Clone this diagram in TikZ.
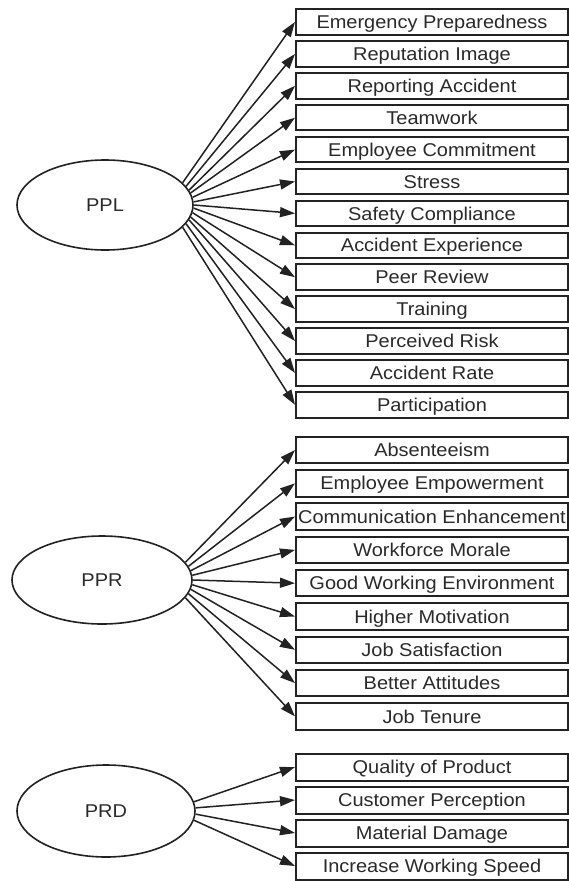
\documentclass[tikz,border=0pt]{standalone}
\usepackage{fontspec}
\setmainfont[FakeStretch=1.08]{Liberation Sans}
\usetikzlibrary{arrows.meta,shapes.geometric}
\definecolor{txt}{HTML}{2A2A2A}
\definecolor{edge}{HTML}{222222}
\tikzset{
  lbl/.style={font=\fontsize{18.5}{20}\selectfont, text=txt},
  itembox/.style={lbl, draw=edge, line width=2pt, fill=white, rectangle, anchor=west,
    minimum width=272pt, inner xsep=0pt, inner ysep=0pt, minimum height=25.5pt,
    text height=15pt, text depth=1.8pt},
  latent/.style={lbl, draw=edge, line width=1.6pt, ellipse, inner sep=0pt},
  arr/.style={draw=edge, line width=1.5pt, -{Triangle[length=15pt,width=10pt]}}
}
\newcommand{\boxtext}[1]{\hbox to 270pt{\hfil #1\hfil}}
\begin{document}
\begin{tikzpicture}[x=1pt,y=-1pt]
\useasboundingbox (0,0) rectangle (568,881);
\fill[white] (0,0) rectangle (568,881);
% latent variables
\node[latent, minimum width=176pt, minimum height=90pt] (ppl) at (105,205) {PPL};
\node[latent, minimum width=180pt, minimum height=88pt] (ppr) at (102,580) {PPR};
\node[latent, minimum width=178pt, minimum height=92pt] (prd) at (106,811) {PRD};
% PPL indicators
\foreach \t [count=\i] in {Emergency Preparedness, Reputation Image, Reporting Accident, Teamwork,
  Employee Commitment, Stress, Safety Compliance, Accident Experience, Peer Review, Training,
  Perceived Risk, Accident Rate, Participation} {
  \node[itembox] (a\i) at (295,{22+31.9*(\i-1)}) {\boxtext{\t}};
  \pgfmathsetmacro{\ang}{16-(\i-1)*32/12}
  \draw[arr] (ppl.\ang) -- (a\i.west);
}
% PPR indicators
\foreach \t [count=\i] in {Absenteeism, Employee Empowerment, Communication Enhancement,
  Workforce Morale, Good Working Environment, Higher Motivation, Job Satisfaction,
  Better Attitudes, Job Tenure} {
  \node[itembox, minimum height=26.5pt] (b\i) at (295,{450+33.3*(\i-1)}) {\boxtext{\t}};
  \pgfmathsetmacro{\ang}{12-(\i-1)*24/8}
  \draw[arr] (ppr.\ang) -- (b\i.west);
}
% PRD indicators
\foreach \t [count=\i] in {Quality of Product, Customer Perception, Material Damage,
  Increase Working Speed} {
  \node[itembox, minimum height=27pt] (c\i) at (295,{767+33*(\i-1)}) {\boxtext{\t}};
  \pgfmathsetmacro{\ang}{6-(\i-1)*12/3}
  \draw[arr] (prd.\ang) -- (c\i.west);
}
\end{tikzpicture}
\end{document}
